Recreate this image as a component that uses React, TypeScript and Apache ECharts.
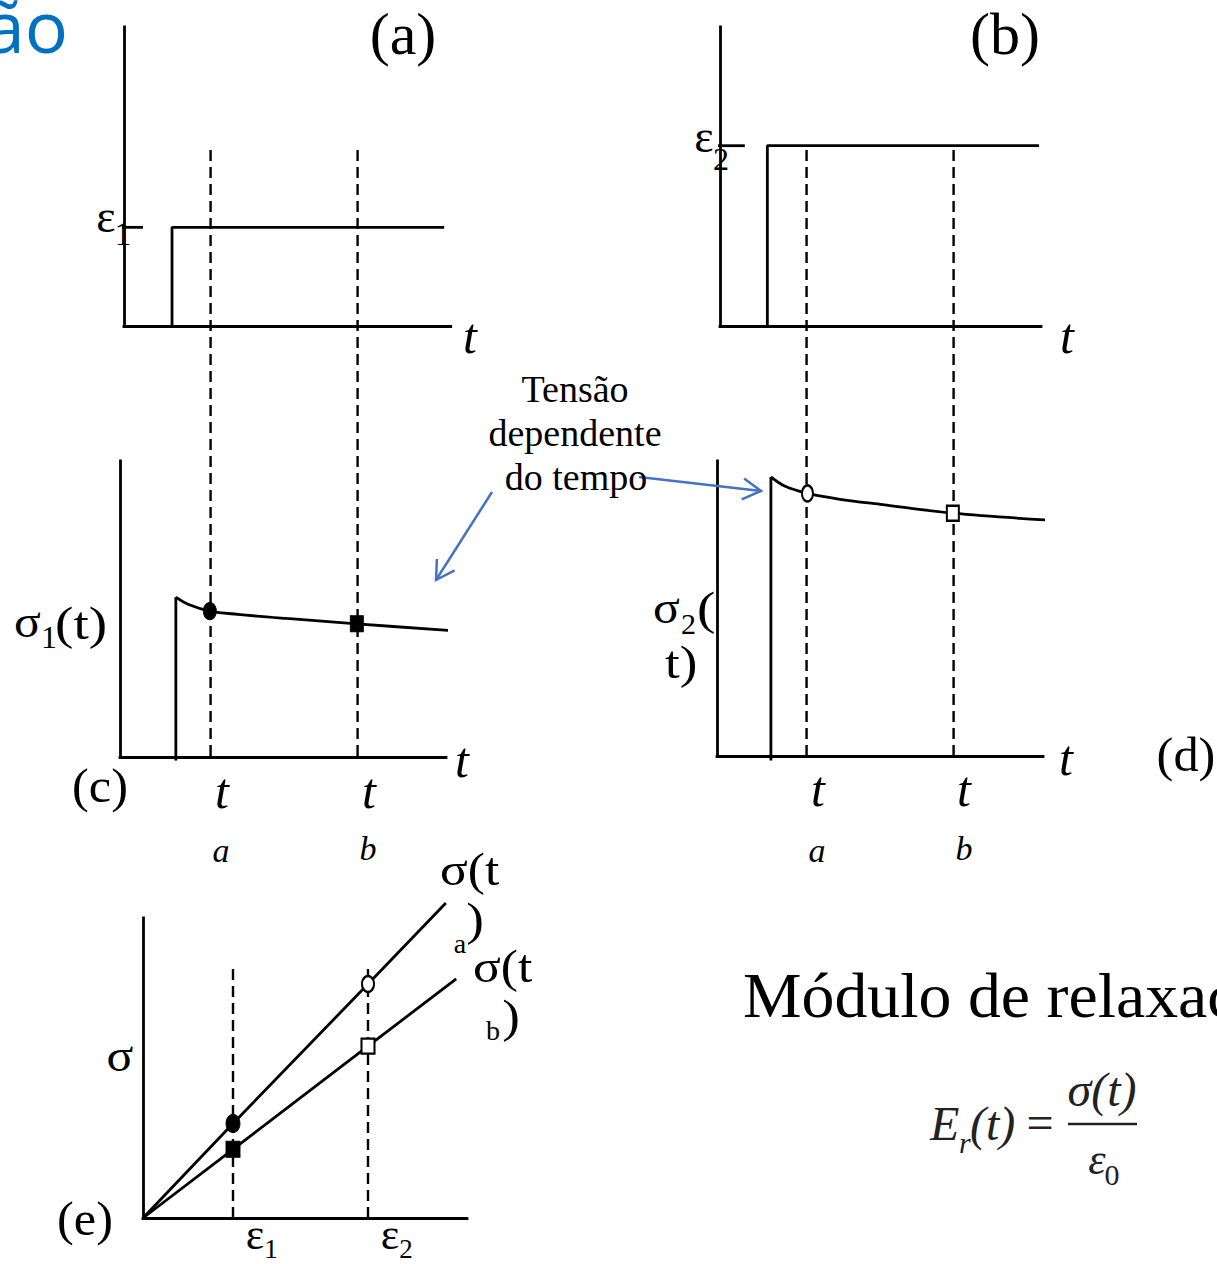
import React, { useEffect, useRef } from "react";
import * as echarts from "echarts";

// ---------- data (abstract units) ----------
const tInstants = [2.65, 7.15]; // t_a, t_b
const strain1Step = [[1.47, 0], [1.47, 3.3], [9.8, 3.3]];
const strain1Tick = [[-0.12, 3.3], [0.58, 3.3]];
const strain2Step = [[1.45, 0], [1.45, 6.03], [9.77, 6.03]];
const strain2Tick = [[-0.06, 6.03], [0.76, 6.03]];
const stress1Jump = [[1.61, -0.12], [1.61, 5.4]];
const stress1Curve = [[1.61, 5.4], [2.0, 5.15], [2.65, 4.93], [3.5, 4.82], [5.0, 4.68], [7.15, 4.5], [10, 4.27]];
const stress1Marks = [[2.65, 4.93], [7.15, 4.5]];
const stress2Jump = [[1.58, -0.15], [1.58, 9.46]];
const stress2Curve = [[1.58, 9.46], [2.0, 9.15], [2.7, 8.9], [3.6, 8.72], [5.0, 8.52], [7.15, 8.23], [10, 8.0]];
const stress2Marks = [[2.7, 8.9], [7.15, 8.23]];
const strainLevels = [2, 5]; // ε1, ε2 in panel (e)
const sigmaAtA = [[0, 0], [2, 3.15], [5, 7.8], [6.73, 10.5]];
const sigmaAtB = [[0, 0], [2, 2.29], [5, 5.73], [6.96, 7.97]];
const guideTopE = 8.5;
const axisLabelsT = ["t", "t"];
const subLabels = ["a", "b"];
const panelLabels = ["(a)", "(b)", "(c)", "(d)", "(e)"];
const annotationLines = ["Tensão", "dependente", "do tempo"];
const titleText = "Módulo de relaxação";

const BLUE = "#4472C4";
const SERIF = '"Liberation Serif", "Times New Roman", serif';

function txt(text: string, x: number, base: number, size: number, opts: any = {}) {
  const align = opts.align || "center";
  const fam = opts.family || SERIF;
  const off = opts.off != null ? opts.off : 0.34;
  const el: any = {
    type: "text",
    x,
    y: base - off * size,
    z: 100,
    silent: true,
    style: {
      text,
      font: `${opts.italic ? "italic " : ""}${opts.weight ? opts.weight + " " : ""}${size}px ${fam}`,
      fill: opts.fill || "#000",
      textAlign: align,
      align,
      textVerticalAlign: "middle",
      verticalAlign: "middle",
    },
  };
  if (opts.sx) el.scaleX = opts.sx;
  return el;
}

function arrow(x1: number, y1: number, x2: number, y2: number) {
  const dx = x2 - x1, dy = y2 - y1, L = Math.hypot(dx, dy);
  const ux = dx / L, uy = dy / L;
  const len = 21, a = Math.PI / 6;
  const w = (ang: number) => [
    x2 - len * (ux * Math.cos(ang) - uy * Math.sin(ang)),
    y2 - len * (uy * Math.cos(ang) + ux * Math.sin(ang)),
  ];
  return [
    { type: "line", z: 90, silent: true, shape: { x1, y1, x2, y2 }, style: { stroke: BLUE, lineWidth: 2.5 } },
    { type: "polyline", z: 90, silent: true, shape: { points: [w(a), [x2, y2], w(-a)] }, style: { stroke: BLUE, lineWidth: 2.5, fill: null } },
  ];
}

const grids = [
  { left: 124, top: 27, width: 326.7, height: 299, xmin: 0, xmax: 10, ymax: 10, axes: true }, // a
  { left: 720, top: 27, width: 321, height: 299, xmin: 0, xmax: 9.83, ymax: 10, axes: true }, // b
  { left: 120, top: 461, width: 326, height: 296, xmin: -0.1, xmax: 9.88, ymax: 10, axes: true }, // c
  { left: 717, top: 461, width: 326, height: 295, xmin: -0.07, xmax: 9.91, ymax: 10, axes: true }, // d
  { left: 143, top: 918, width: 324, height: 300, xmin: 0, xmax: 7.2, ymax: 10, axes: true }, // e
  { left: 124, top: 147, width: 326.7, height: 609, xmin: 0, xmax: 10, ymax: 1, axes: false }, // guides left
  { left: 720, top: 147, width: 326.7, height: 609, xmin: 0, xmax: 10, ymax: 1, axes: false }, // guides right
];

const LW = 2.8;

function lineS(i: number, data: any[], extra: any = {}) {
  return {
    type: "line",
    xAxisIndex: i,
    yAxisIndex: i,
    data,
    symbol: "none",
    clip: false,
    silent: true,
    lineStyle: { color: "#000", width: LW, ...(extra.lineStyle || {}) },
    smooth: extra.smooth || false,
    z: 5,
  };
}

function dashS(i: number, data: any[]) {
  return lineS(i, data, { lineStyle: { type: [11, 6], width: 2.4 } });
}

function markS(i: number, data: any[], symbol: string, size: number[], filled: boolean) {
  return {
    type: "scatter",
    xAxisIndex: i,
    yAxisIndex: i,
    data,
    symbol,
    symbolSize: size,
    clip: false,
    silent: true,
    z: 10,
    itemStyle: filled
      ? { color: "#000", borderColor: "#000", borderWidth: 1, opacity: 1 }
      : { color: "#fff", borderColor: "#000", borderWidth: 2.2, opacity: 1 },
  };
}

export default function App() {
  const ref = useRef<HTMLDivElement>(null);
  useEffect(() => {
    if (!ref.current) return;
    const chart = echarts.init(ref.current, undefined, { renderer: "svg" });
    const [ta, tb] = tInstants;
    const series: any[] = [
      lineS(0, strain1Step),
      lineS(0, strain1Tick),
      lineS(1, strain2Step),
      lineS(1, strain2Tick),
      lineS(2, stress1Jump),
      lineS(2, stress1Curve, { smooth: 0.35 }),
      markS(2, [stress1Marks[0]], "circle", [13, 17], true),
      markS(2, [stress1Marks[1]], "rect", [13, 16], true),
      lineS(3, stress2Jump),
      lineS(3, stress2Curve, { smooth: 0.35 }),
      markS(3, [stress2Marks[0]], "circle", [11, 16], false),
      markS(3, [stress2Marks[1]], "rect", [12, 15], false),
      dashS(5, [[ta, 0], [ta, 1]]),
      dashS(5, [[tb, 0], [tb, 1]]),
      dashS(6, [[ta, 0], [ta, 1]]),
      dashS(6, [[tb, 0], [tb, 1]]),
      dashS(4, [[strainLevels[0], 0], [strainLevels[0], guideTopE]]),
      dashS(4, [[strainLevels[1], 0], [strainLevels[1], guideTopE]]),
      lineS(4, sigmaAtA),
      lineS(4, sigmaAtB),
      markS(4, [sigmaAtA[1]], "circle", [14, 18], true),
      markS(4, [sigmaAtB[1]], "rect", [14, 16], true),
      markS(4, [sigmaAtA[2]], "circle", [12, 16], false),
      markS(4, [sigmaAtB[2]], "rect", [13, 15], false),
    ];

    const axisLine = (show: boolean) => ({
      show,
      onZero: false,
      lineStyle: { color: "#000", width: LW, cap: "square" },
    });

    const graphic: any[] = [
      txt("ão", 68, 53, 72, { align: "right", family: '"Open Sans", sans-serif', fill: "#0070C0", off: 0.39 }),
      txt(panelLabels[0], 403, 54, 60),
      txt(panelLabels[1], 1005, 54, 60),
      // ε1 / ε2 strain levels
      txt("ε", 106, 232, 46),
      txt("1", 123, 245, 34),
      txt("ε", 704, 152, 46),
      txt("2", 721, 170, 32),
      // axis t labels
      txt("t", 470, 353, 50, { italic: true }),
      txt("t", 1067, 353, 50, { italic: true }),
      txt("t", 462, 777, 50, { italic: true }),
      txt("t", 1066, 775, 50, { italic: true }),
      // t_a, t_b
      txt(axisLabelsT[0], 222, 808, 50, { italic: true }),
      txt(subLabels[0], 221, 862, 34, { italic: true }),
      txt(axisLabelsT[1], 369, 808, 50, { italic: true }),
      txt(subLabels[1], 368, 860, 34, { italic: true }),
      txt(axisLabelsT[0], 818, 806, 50, { italic: true }),
      txt(subLabels[0], 817, 862, 34, { italic: true }),
      txt(axisLabelsT[1], 964, 806, 50, { italic: true }),
      txt(subLabels[1], 964, 860, 34, { italic: true }),
      // annotation
      txt(annotationLines[0], 575, 402, 38),
      txt(annotationLines[1], 575, 446, 38),
      txt(annotationLines[2], 576, 490, 38),
      ...arrow(492, 492, 436, 580),
      ...arrow(639, 477, 761, 491),
      // σ1(t)
      txt("σ", 14, 637, 46, { align: "left", sx: 1.08 }),
      txt("1", 41, 648, 32, { align: "left" }),
      txt("(t)", 55, 639, 46, { align: "left", sx: 1.2 }),
      txt(panelLabels[2], 100, 802, 48, { sx: 1.05 }),
      // σ2(t)
      txt("σ", 653, 623, 46, { align: "left", sx: 1.08 }),
      txt("2", 681, 634, 30, { align: "left" }),
      txt("(", 697, 624, 46, { align: "left", sx: 1.2 }),
      txt("t)", 665, 678, 46, { align: "left", sx: 1.15 }),
      txt(panelLabels[3], 1186, 771, 48, { sx: 1.05 }),
      // panel e
      txt("σ(t", 440, 885, 46, { align: "left", sx: 1.12 }),
      txt(")", 475, 935, 46, { sx: 1.15 }),
      txt("a", 460, 953, 28),
      txt("σ(t", 473, 982, 46, { align: "left", sx: 1.12 }),
      txt(")", 511, 1032, 46, { sx: 1.15 }),
      txt("b", 493, 1040, 28),
      txt("σ", 120, 1071, 46, { sx: 1.08 }),
      txt(panelLabels[4], 85, 1235, 48, { sx: 1.05 }),
      txt("ε", 255, 1249, 44),
      txt("1", 271, 1258, 27),
      txt("ε", 390, 1249, 44),
      txt("2", 406, 1258, 27),
      // title
      txt(titleText, 743, 1017, 63, { align: "left", sx: 1.045 }),
      // formula
      txt("E", 930, 1140, 48, { align: "left", italic: true, fill: "#222" }),
      txt("r", 959, 1153, 30, { align: "left", italic: true, fill: "#222" }),
      txt("(t)", 970, 1140, 48, { align: "left", italic: true, fill: "#222" }),
      txt("=", 1040, 1139, 48, { fill: "#222" }),
      txt("σ(t)", 1102, 1106, 48, { italic: true, fill: "#222" }),
      { type: "line", z: 90, silent: true, shape: { x1: 1068, y1: 1124, x2: 1137, y2: 1124 }, style: { stroke: "#222", lineWidth: 2.5 } },
      txt("ε", 1097, 1174, 44, { italic: true, fill: "#222" }),
      txt("0", 1112, 1185, 30, { fill: "#222" }),
    ];

    chart.setOption({
      animation: false,
      backgroundColor: "#fff",
      grid: grids.map((g) => ({ left: g.left, top: g.top, width: g.width, height: g.height, containLabel: false })),
      xAxis: grids.map((g, i) => ({
        type: "value",
        gridIndex: i,
        min: g.xmin,
        max: g.xmax,
        axisLine: axisLine(g.axes),
        axisTick: { show: false },
        axisLabel: { show: false },
        splitLine: { show: false },
      })),
      yAxis: grids.map((g, i) => ({
        type: "value",
        gridIndex: i,
        min: 0,
        max: g.ymax,
        axisLine: axisLine(g.axes),
        axisTick: { show: false },
        axisLabel: { show: false },
        splitLine: { show: false },
      })),
      series,
      graphic,
    });
    return () => chart.dispose();
  }, []);
  return (
    <div
      ref={ref}
      style={{ position: "absolute", left: 0, top: 0, width: 1217, height: 1264, background: "#fff" }}
    />
  );
}
